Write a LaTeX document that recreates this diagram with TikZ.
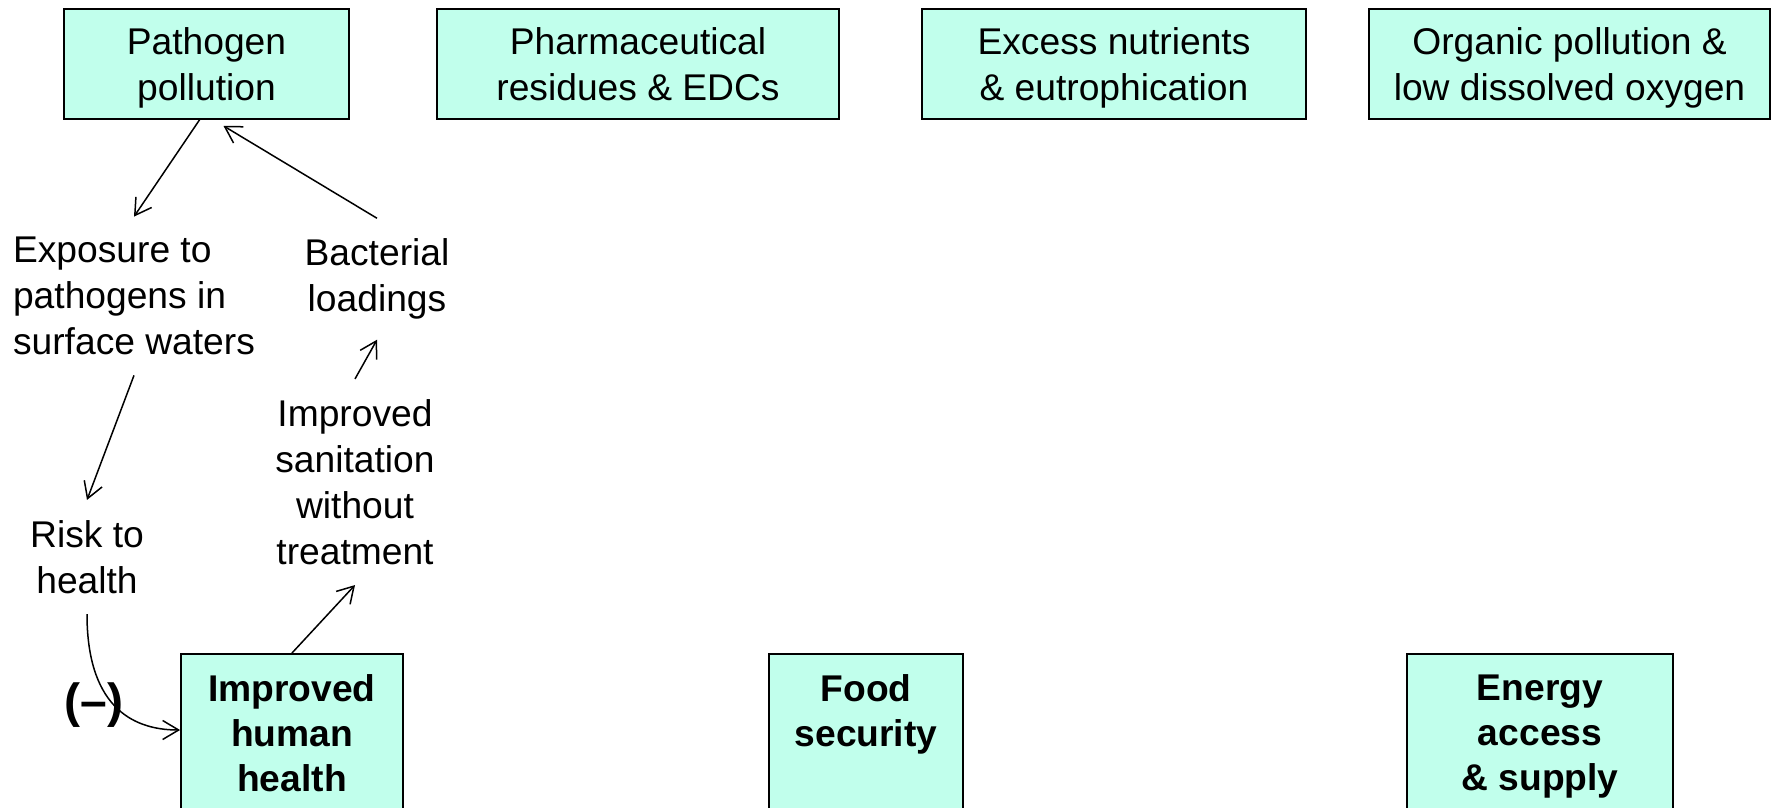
\documentclass[tikz,border=0pt]{standalone}
\usepackage{fontspec}
\setmainfont{Liberation Sans}
\usetikzlibrary{arrows.meta, positioning}

\definecolor{aqua}{RGB}{193,255,236}

\begin{document}
\begin{tikzpicture}[x=0.5pt, y=-0.5pt,
  >={Straight Barb[length=8pt, width=9.5pt]},
  font=\fontsize{18.6}{23}\selectfont,
  issue/.style={draw, line width=0.9pt, fill=aqua, align=center,
                minimum height=55pt, inner sep=2pt, text depth=0pt},
  goal/.style={draw, line width=0.9pt, fill=aqua, align=center, anchor=north,
               inner xsep=2pt, inner ysep=10.5pt, text depth=70pt,
               font=\fontsize{18.6}{22.4}\selectfont\bfseries},
  factor/.style={align=center, inner sep=10pt},
  link/.style={->, line width=0.75pt}]

\useasboundingbox (0,0) rectangle (1777,808);

% =============== pollution issues ===============
\node[issue, minimum width=142.5pt] (pathogen) at (206.5,64) {Pathogen\\pollution};
\node[issue, minimum width=201pt] (pharma) at (638,64) {Pharmaceutical\\residues \& EDCs};
\node[issue, minimum width=192pt] (nutrients) at (1114,64) {Excess nutrients\\\& eutrophication};
\node[issue, minimum width=200.5pt] (organic) at (1569.5,64) {Organic pollution \&\\low dissolved oxygen};

% =============== development goals ===============
\node[goal, minimum width=111pt] (health) at (292,653) {Improved\\human\\health};
\node[goal, minimum width=97pt] (food) at (866,653) {Food\\security};
\node[goal, minimum width=133pt] (energy) at (1540,653) {Energy\\access\\\& supply};

% =============== pathogen loop ===============
\node[factor, align=left] (exposure) at (134,296) {Exposure to\\pathogens in\\surface waters};
\node[factor] (bacteria) at (377,279) {Bacterial\\loadings};
\node[factor] (sanitation) at (355,482) {Improved\\sanitation\\without\\treatment};
\node[factor] (risk) at (87,557) {Risk to\\health};
\node[font=\fontsize{24}{28}\selectfont\bfseries] (minus) at (94,705) {(\textendash)};

\draw[link] ([xshift=-3.5pt]pathogen.south) -- (exposure.north);
\draw[link] (bacteria.north) -- ([xshift=8.5pt, yshift=-3pt]pathogen.south);
\draw[link] (exposure.south) -- (risk.north);
\draw[link] (sanitation.north) -- (bacteria.south);
\draw[link] (health.north) -- (sanitation.south);
% negative link into health
\draw[link] (risk.south) .. controls +(0,89) and +(-51,0) .. ([yshift=-38.5pt]health.north west);

\end{tikzpicture}
\end{document}
